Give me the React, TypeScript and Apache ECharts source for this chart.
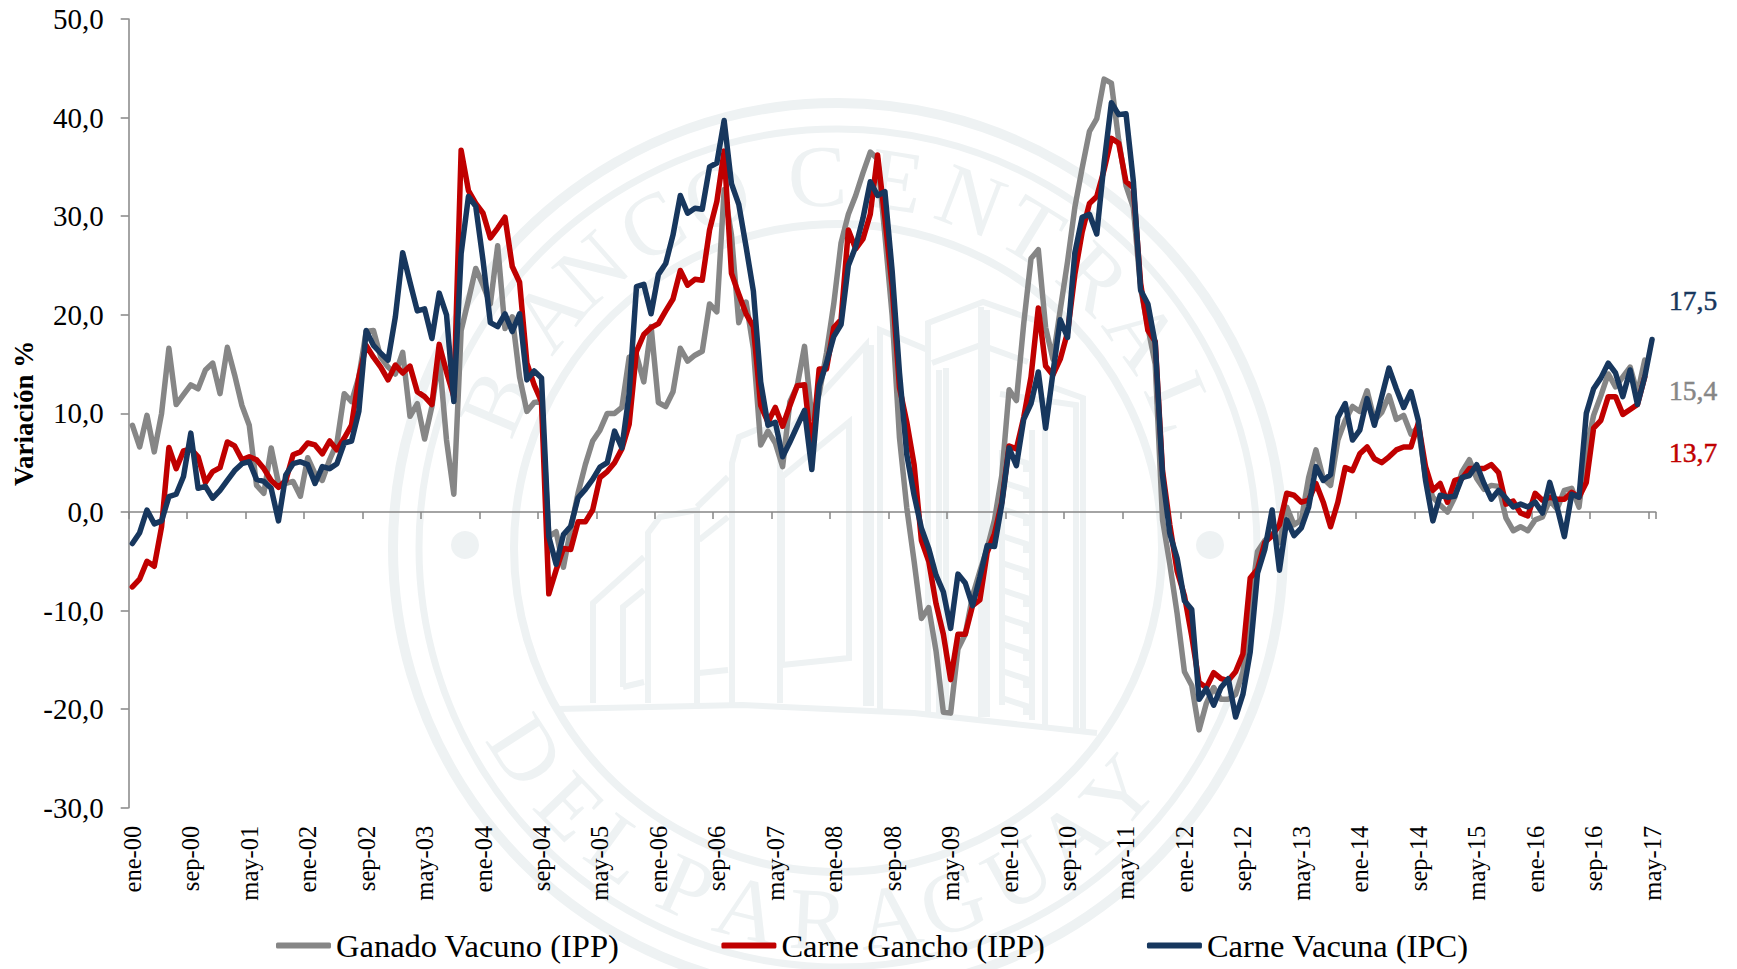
import React, { useEffect, useRef } from "react";
import * as echarts from "echarts";

const monthNames = ["ene", "feb", "mar", "abr", "may", "jun", "jul", "ago", "sep", "oct", "nov", "dic"];
const categories: string[] = [];
for (let y = 0; y < 18; y++) {
  for (let m = 0; m < 12; m++) {
    if (y === 17 && m > 4) break;
    categories.push(monthNames[m] + "-" + String(y).padStart(2, "0"));
  }
}

const ganadoVacuno = [
  8.8, 6.6, 9.8, 6.1, 10, 16.6, 10.9, 11.9, 12.9, 12.5,
  14.4, 15.1, 12.0, 16.7, 13.9, 10.8, 8.8, 2.7, 1.9, 6.5,
  2.9, 2.9, 3.1, 1.6, 5.5, 3.9, 3.2, 5.3, 7, 12,
  11.2, 13.7, 18.3, 18.4, 15.7, 14.7, 14, 16.2, 9.7, 11,
  7.4, 10.7, 15.7, 7.3, 1.8, 18.4, 21.5, 24.7, 23, 21.1,
  27, 18.6, 19.8, 13.7, 10.2, 11.1, 11.2, -2.5, -2.0, -5.6,
  -1.7, 1.9, 4.8, 7.2, 8.3, 10, 10, 10.6, 15.7, 15.9,
  13.2, 18.8, 11.1, 10.7, 12.2, 16.6, 15.3, 15.9, 16.3, 21.1,
  20.3, 32.7, 28.1, 19.2, 21.3, 16.6, 6.8, 8.2, 7.0, 4.6,
  11.2, 12.8, 16.8, 9.5, 12, 16.1, 21.1, 27.3, 30.2, 32.1,
  34.4, 36.5, 35.8, 28.1, 19.9, 7.5, 0.4, -5, -10.8, -9.7,
  -14.1, -20.3, -20.4, -13.9, -12.4, -8.5, -6, -3.7, -0.8, 3.7,
  12.4, 11.3, 19.1, 25.7, 26.6, 18.7, 15.5, 20.5, 25.4, 30.9,
  34.9, 38.6, 39.9, 43.9, 43.5, 37.7, 33.1, 30.9, 22.7, 18.7,
  15, -0.8, -5.3, -10.3, -16.2, -17.6, -22.1, -19.4, -17.8, -19,
  -19, -18.5, -16.2, -9.4, -4, -2.9, -2.2, -3.1, 0.5, -1.3,
  -0.8, 3.5, 6.3, 3.4, 2.7, 7.3, 9.3, 10.7, 10.2, 12.3,
  9.3, 10.1, 11.8, 9.4, 9.8, 7.9, 8.6, 3.5, 1.5, 0.7,
  0, 1.5, 4.1, 5.3, 3.4, 2.3, 2.7, 2.6, -0.6, -1.9,
  -1.5, -1.9, -0.8, -0.5, 1.2, 0.3, 2.2, 2.4, 0.5, 6.3,
  9.8, 11.8, 14, 12.7, 13.7, 14.7, 12, 15.4, null,
];

const carneGancho = [
  -7.6, -6.8, -5.0, -5.5, -1.5, 6.55, 4.4, 6.2, 6.4, 5.6,
  3.0, 4.1, 4.5, 7.1, 6.7, 5.3, 5.6, 5.3, 4.4, 3.2,
  2.5, 3.2, 5.8, 6.1, 7.0, 6.8, 5.9, 7.2, 6.3, 7.5,
  8.8, 13.7, 16.9, 15.7, 14.7, 13.4, 14.9, 14.1, 14.8, 12.2,
  11.7, 10.9, 17.0, 14.2, 11.7, 36.7, 32.6, 31.3, 30.3, 27.8,
  28.8, 29.9, 24.9, 23.3, 15.1, 12.9, 11.2, -8.3, -5.9, -3.7,
  -3.8, -1.0, -1.0, 0.2, 3.5, 4.1, 5.0, 6.4, 8.9, 16.3,
  18, 18.7, 19.1, 20.4, 21.6, 24.5, 23, 23.6, 23.5, 28.6,
  31.5, 36.6, 24.2, 22.1, 20.1, 18.8, 10.8, 9.1, 10.6, 8.7,
  10.8, 12.8, 12.9, 6.2, 14.5, 14.5, 18.7, 19.5, 28.6, 26.7,
  27.7, 30.2, 36.2, 29.8, 22.8, 12.6, 9.1, 4.8, -2.9, -5,
  -9.3, -12.4, -17, -12.4, -12.4, -9.5, -8.9, -4.1, -2.2, 1,
  6.7, 6.4, 9.6, 13.7, 20.7, 14.8, 13.9, 15.5, 18.2, 24.1,
  28.4, 31.3, 32, 34.7, 37.9, 37.4, 33.5, 32.9, 23.2, 18.4,
  17.3, 4.2, -1.3, -6, -8.5, -12.6, -17.3, -17.8, -16.3, -16.9,
  -17.1, -16.2, -14.4, -6.7, -5.8, -3.1, -2.4, -1.3, 1.9, 1.7,
  1, 1.2, 2.9, 1, -1.5, 1, 4.5, 4.2, 5.9, 6.6,
  5.4, 5, 5.6, 6.3, 6.6, 6.6, 9, 4.6, 2.2, 2.9,
  1, 3.2, 3.4, 4.4, 4.4, 4.4, 4.8, 4, 0.8, 1.1,
  -0.1, -0.4, 1.9, 1.2, 1.5, 1.3, 1.3, 2, 1.5, 3,
  8.5, 9.3, 11.7, 11.7, 9.9, 10.4, 10.9, 13.7, null,
];

const carneVacuna = [
  -3.2, -2.1, 0.2, -1.2, -0.9, 1.55, 1.8, 3.6, 8.0, 2.4,
  2.6, 1.4, 2.2, 3.2, 4.2, 4.9, 5.1, 3.3, 3.1, 2.4,
  -0.9, 3.75, 4.9, 5.1, 4.8, 2.9, 4.6, 4.4, 4.9, 7,
  7.2, 10.2, 18.4, 16.9, 16.1, 15.4, 19.8, 26.3, 23.3, 20.4,
  20.6, 17.6, 22.2, 20, 11.2, 26.2, 32, 31, 25.5, 19.2,
  18.8, 20.1, 18.3, 20.1, 13.4, 14.3, 13.6, -2.5, -5.3, -2.3,
  -1.45, 1.45, 2.3, 3.3, 4.55, 5, 8.2, 6.5, 12, 22.85,
  23.1, 20.1, 24.1, 25.2, 28.1, 32.1, 30.3, 30.8, 30.7, 35,
  35.4, 39.7, 33.3, 31.2, 26.9, 22.4, 13.2, 8.8, 9.1, 5.6,
  7.1, 8.7, 10.3, 4.3, 12.8, 15.1, 17.8, 19, 25, 26.9,
  29.8, 33.5, 32.1, 32.5, 24.4, 14.1, 5.8, 1.7, -1.65, -3.7,
  -6.4, -8.1, -11.8, -6.3, -7.2, -9.5, -6.6, -3.4, -3.5, 0.8,
  6.5, 4.7, 9.4, 11, 14.2, 8.5, 14.1, 19.5, 17.7, 26.3,
  29.9, 30.2, 28.2, 35.4, 41.5, 40.3, 40.4, 33.6, 22.5, 21.1,
  17.1, 3.7, -2.2, -4.7, -9, -9.9, -19, -17.9, -19.6, -17.8,
  -16.9, -20.8, -18.5, -14.2, -6.2, -3.8, 0.2, -5.9, -0.8, -2.4,
  -1.6, 0.5, 4.6, 3.2, 3.8, 9.6, 11, 7.3, 8.3, 11.5,
  8.8, 11.7, 14.6, 12.5, 10.6, 12.2, 9.3, 3.2, -0.9, 1.7,
  1.5, 1.6, 3.5, 3.7, 4.8, 2.9, 1.3, 2.2, 1.4, 0.5,
  0.8, 0.5, 1, -0.1, 3, 0.5, -2.5, 1.8, 1.5, 10,
  12.5, 13.6, 15.1, 14.1, 11.7, 14.4, 10.9, 13.7, 17.5,
];

const seriesNames = ["Ganado Vacuno (IPP)", "Carne Gancho (IPP)", "Carne Vacuna (IPC)"];
const seriesColors = ["#868686", "#c00000", "#17375e"];
const endLabels = ["15,4", "13,7", "17,5"];

const sealTop = "BANCOCENTRAL".split("");
const sealTopAngles = [-67, -51, -41.5, -30, -19, -3.2, 9, 21, 31.5, 43.5, 55, 67];
const sealBottom = "DELPARAGUAY".split("");
const sealBottomAngles = [-57, -46, -36, -24, -14, -3, 8, 18, 29, 39, 49];

const FONT = "'Liberation Serif', serif";
const WM = "#eef2f3";

function watermark(): any[] {
  const cx = 838;
  const cy = 548;
  const out: any[] = [];
  const ring = (r: number, w: number) =>
    out.push({ type: "circle", shape: { cx, cy, r }, style: { fill: "none", stroke: WM, lineWidth: w }, silent: true });
  ring(445, 10);
  ring(419, 7);
  ring(324, 8);
  out.push({ type: "circle", shape: { cx: 465, cy: 545, r: 14 }, style: { fill: WM }, silent: true });
  out.push({ type: "circle", shape: { cx: 1210, cy: 545, r: 14 }, style: { fill: WM }, silent: true });

  const letter = (ch: string, deg: number, bottom: boolean) => {
    const a = (deg * Math.PI) / 180;
    const r = 372;
    const x = cx + r * Math.sin(a);
    const y = bottom ? cy + r * Math.cos(a) : cy - r * Math.cos(a);
    out.push({
      type: "text",
      x,
      y,
      rotation: bottom ? a : -a,
      silent: true,
      style: { text: ch, fill: WM, font: "88px " + FONT, align: "center", verticalAlign: "middle" },
    });
  };
  sealTop.forEach((c, i) => letter(c, sealTopAngles[i], false));
  sealBottom.forEach((c, i) => letter(c, sealBottomAngles[i], true));

  const lines: number[][][] = [
    [[558, 709], [742, 705], [914, 713], [1097, 733]],
    [[593, 703], [593, 603], [644, 557]],
    [[623, 687], [623, 607], [644, 590]],
    [[623, 687], [644, 682]],
    [[648, 703], [648, 533], [660, 517], [697, 510], [697, 703]],
    [[697, 507], [728, 477]],
    [[699, 540], [728, 517]],
    [[699, 673], [728, 670]],
    [[732, 703], [732, 463], [739, 437], [756, 430], [780, 430], [780, 703]],
    [[782, 665], [782, 477], [849, 422], [849, 658], [782, 665]],
    [[780, 440], [866, 345], [866, 706]],
    [[871, 706], [871, 345]],
    [[880, 710], [880, 330], [928, 350]],
    [[928, 713], [928, 323], [983, 302], [1040, 322]],
    [[932, 363], [981, 345], [1028, 362]],
    [[939, 713], [939, 370]],
    [[946, 713], [946, 368]],
    [[981, 717], [981, 307]],
    [[987, 717], [987, 310]],
    [[1052, 387], [1083, 398], [1083, 733]],
    [[1000, 394], [1076, 405], [1076, 733]],
    [[1045, 725], [1045, 400]],
    [[1002, 705], [1002, 450]],
    [[1032, 720], [1032, 430]],
  ];
  for (let k = 0; k < 10; k++) {
    const y = 455 + k * 27;
    lines.push([[1002, y], [1026, y + 8], [1026, y + 17]]);
  }
  lines.forEach((points) =>
    out.push({ type: "polyline", shape: { points }, style: { fill: "none", stroke: WM, lineWidth: 6 }, silent: true })
  );
  return out;
}

export default function App() {
  const ref = useRef<HTMLDivElement>(null);
  useEffect(() => {
    if (!ref.current) return;
    const chart = echarts.init(ref.current, null, { renderer: "svg" });
    const axisGrey = "#868686";
    chart.setOption({
      animation: false,
      backgroundColor: "#fff",
      textStyle: { fontFamily: FONT },
      grid: { left: 128.7, top: 19, width: 1527, height: 788.8, containLabel: false, outerBoundsMode: "none" },
      legend: {
        left: 271,
        top: 924,
        icon: "roundRect",
        itemWidth: 55,
        itemHeight: 6,
        itemGap: 102,
        data: seriesNames,
        textStyle: { fontFamily: FONT, fontSize: 32.5, color: "#000" },
      },
      xAxis: [
        {
          type: "category",
          position: "bottom",
          data: categories,
          boundaryGap: true,
          axisLine: { show: false, onZero: false },
          axisTick: { show: false },
          axisLabel: { interval: 7, rotate: 90, margin: 18, color: "#000", fontFamily: FONT, fontSize: 24.5 },
        },
        {
          type: "category",
          position: "bottom",
          data: categories,
          boundaryGap: true,
          axisLine: { show: true, onZero: true, lineStyle: { color: axisGrey, width: 1.5 } },
          axisTick: { show: true, interval: 7, length: 7, lineStyle: { color: axisGrey, width: 1.5 } },
          axisLabel: { show: false },
        },
      ],
      yAxis: {
        type: "value",
        min: -30,
        max: 50,
        interval: 10,
        name: "Variación %",
        nameLocation: "middle",
        nameGap: 91,
        nameRotate: 90,
        nameMoveOverlap: false,
        nameTextStyle: { fontFamily: FONT, fontSize: 27, fontWeight: "bold", color: "#000" },
        axisLine: { show: true, lineStyle: { color: axisGrey, width: 1.5 } },
        axisTick: { show: true, length: 8, lineStyle: { color: axisGrey, width: 1.5 } },
        splitLine: { show: false },
        axisLabel: {
          margin: 25,
          color: "#000",
          fontFamily: FONT,
          fontSize: 29,
          lineHeight: 35,
          verticalAlign: "middle",
          padding: [0, 0, 5, 0],
          formatter: (v: number) => v.toFixed(1).replace(".", ","),
        },
      },
      series: [ganadoVacuno, carneGancho, carneVacuna].map((data, i) => ({
        type: "line",
        name: seriesNames[i],
        data,
        xAxisIndex: 0,
        symbol: "none",
        smooth: false,
        lineStyle: { color: seriesColors[i], width: 5.5, cap: "round", join: "round" },
        itemStyle: { color: seriesColors[i] },
      })),
      graphic: [
        ...watermark(),
        ...[390, 452, 300].map((y, i) => ({
          type: "text",
          x: 1669,
          y,
          z: 10,
          style: {
            text: endLabels[i],
            fill: seriesColors[i],
            stroke: seriesColors[i],
            lineWidth: 0.5,
            font: "27.5px " + FONT,
            align: "left",
            verticalAlign: "middle",
          },
        })),
      ],
    });
    return () => chart.dispose();
  }, []);
  return <div ref={ref} style={{ position: "fixed", left: 0, top: 0, width: 1737, height: 969 }} />;
}
